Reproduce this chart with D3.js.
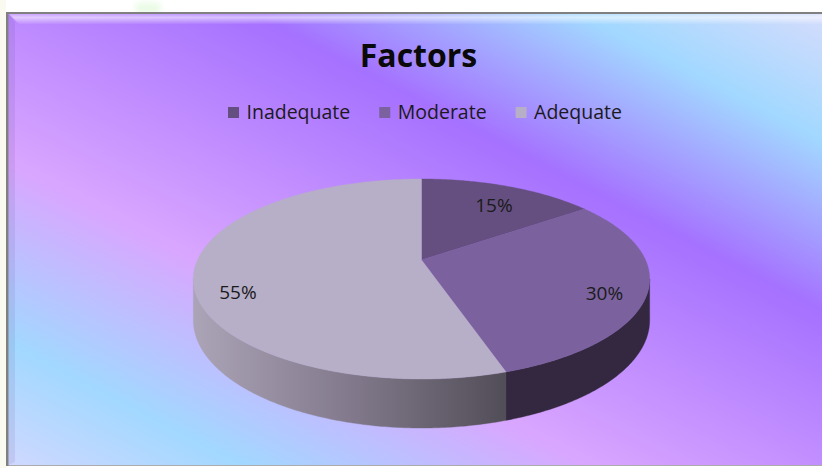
<!DOCTYPE html>
<html><head><meta charset="utf-8">
<script src="https://cdn.jsdelivr.net/npm/d3@7"></script>
<style>html,body{margin:0;padding:0;background:#fff;}svg{display:block;}</style>
</head><body>
<script>
// ---- data ----
const title = "Factors";
const categories = ["Inadequate", "Moderate", "Adequate"];
const values = [15, 30, 55];
const valueLabels = ["15%", "30%", "55%"];
const topColors = ["#654f80", "#7b629e", "#b7aec8"];
const sideColors = ["#2a2035", "#33283f", "url(#sideAdeq)"];

const W = 822, H = 468;
const svg = d3.select("body").append("svg").attr("width", W).attr("height", H);
const defs = svg.append("defs");

// background gradient (diagonal bands)
const bg = defs.append("linearGradient").attr("id", "bg")
  .attr("gradientUnits", "userSpaceOnUse");
const nx = -0.462, ny = 0.887, t0 = -380, t1 = 410;
bg.attr("x1", nx * t0).attr("y1", ny * t0).attr("x2", nx * t1).attr("y2", ny * t1);
[[-372, "#d6dcfc"], [-255, "#a2d8ff"], [-104, "#a571ff"], [140, "#d9a6ff"], [300, "#a2d8ff"], [410, "#d0d8ff"]]
  .forEach(([t, c]) => bg.append("stop").attr("offset", (t - t0) / (t1 - t0)).attr("stop-color", c));

const topBevel = defs.append("linearGradient").attr("id", "topBevel").attr("x1", 0).attr("y1", 0).attr("x2", 0).attr("y2", 1);
topBevel.append("stop").attr("offset", 0).attr("stop-color", "#ffffff").attr("stop-opacity", 0.25);
topBevel.append("stop").attr("offset", 0.35).attr("stop-color", "#ffffff").attr("stop-opacity", 0.55);
topBevel.append("stop").attr("offset", 1).attr("stop-color", "#ffffff").attr("stop-opacity", 0.05);

const sideG = defs.append("linearGradient").attr("id", "sideAdeq").attr("gradientUnits", "userSpaceOnUse")
  .attr("x1", 195).attr("y1", 0).attr("x2", 505).attr("y2", 0);
sideG.append("stop").attr("offset", 0).attr("stop-color", "#aba3b6");
sideG.append("stop").attr("offset", 0.5).attr("stop-color", "#827a8c");
sideG.append("stop").attr("offset", 1).attr("stop-color", "#524e58");

const blur = defs.append("filter").attr("id", "soft").attr("x", "-50%").attr("y", "-50%").attr("width", "200%").attr("height", "200%");
blur.append("feGaussianBlur").attr("stdDeviation", 3);

// page decoration
svg.append("rect").attr("x", 0).attr("y", 0).attr("width", 6).attr("height", H).attr("fill", "#fafaf0");
svg.append("rect").attr("x", 136).attr("y", 3).attr("width", 24).attr("height", 10).attr("fill", "#d8f8d0")
  .attr("opacity", 0.6).attr("filter", "url(#soft)");

// chart frame
svg.append("rect").attr("x", 6).attr("y", 12).attr("width", W - 6).attr("height", 454).attr("fill", "#808080");
svg.append("rect").attr("x", 8.5).attr("y", 14).attr("width", W - 8.5).attr("height", 451).attr("fill", "url(#bg)");
// bevels
svg.append("path").attr("d", `M9,14 L${W},14 L${W},24 L19,24 Z`).attr("fill", "url(#topBevel)");
svg.append("path").attr("d", `M8.5,14 L15,22 L15,${H - 6} L8.5,${H - 3} Z`).attr("fill", "#4a3a80").attr("opacity", 0.1);
svg.append("rect").attr("x", 8.5).attr("y", 465).attr("width", W).attr("height", 3).attr("fill", "#ffffff").attr("opacity", 0.35);

// title
svg.append("text").attr("x", 418.5).attr("y", 66.5).attr("text-anchor", "middle")
  .attr("font-family", "'Open Sans', sans-serif").attr("font-weight", 700).attr("font-size", 32)
  .attr("fill", "#0a0a0a").text(title);

// legend
const legend = svg.append("g").attr("font-family", "'Open Sans', sans-serif").attr("font-size", 19.5).attr("fill", "#1c1a20");
let lx = 228;
categories.forEach((c, i) => {
  legend.append("rect").attr("x", lx).attr("y", 107).attr("width", 11).attr("height", 11).attr("fill", topColors[i]);
  const tx = legend.append("text").attr("x", lx + 18.5).attr("y", 118.5).text(c);
  lx = lx + 18.5 + tx.node().getComputedTextLength() + 29;
});

// ---- 3D pie with perspective ----
const cx = 421.5, cy = 260, F = 224, S = 96.4, K = 0.19, DEPTH = 39.7;
function P(r, a) {
  const d = 1 + K * r * Math.cos(a);
  return [cx + F * r * Math.sin(a) / d, cy - S * r * Math.cos(a) / d];
}
function PB(a) {
  const p = P(1, a);
  return [p[0], p[1] + DEPTH / (1 + K * Math.cos(a))];
}
function samples(a0, a1) {
  const n = Math.max(2, Math.ceil(Math.abs(a1 - a0) / 0.01));
  return d3.range(n + 1).map(i => a0 + (a1 - a0) * i / n);
}
const pie = d3.pie().sort(null).value(d => d)(values);
const line = d3.line();
const aR = Math.acos(-K), aL = 2 * Math.PI - aR;

// walls
const walls = svg.append("g");
pie.forEach((s, i) => {
  const a0 = Math.max(s.startAngle, aR), a1 = Math.min(s.endAngle, aL);
  if (a1 <= a0) return;
  const topPts = samples(a0, a1).map(a => P(1, a));
  const botPts = samples(a0, a1).reverse().map(a => PB(a));
  walls.append("path").attr("d", line(topPts.concat(botPts)) + "Z")
    .attr("fill", sideColors[i]).attr("stroke", sideColors[i]).attr("stroke-width", 0.4);
});

// top faces
const tops = svg.append("g");
pie.forEach((s, i) => {
  const pts = [P(0, 0)].concat(samples(s.startAngle, s.endAngle).map(a => P(1, a)));
  tops.append("path").attr("d", line(pts) + "Z").attr("fill", topColors[i])
    .attr("stroke", topColors[i]).attr("stroke-width", 0.4);
});

// data labels, placed on the projected ellipse at mid of the projected boundary angles
const ecx = cx, ecy = 279, erx = 228, ery = 100;
function psi(a) {
  const p = P(1, a);
  let v = Math.atan2((p[0] - ecx) / erx, -(p[1] - ecy) / ery);
  if (v < 0) v += 2 * Math.PI;
  return v;
}
const lab = svg.append("g").attr("font-family", "'Open Sans', sans-serif").attr("font-size", 19)
  .attr("fill", "#1a1a1a").attr("text-anchor", "middle");
pie.forEach((s, i) => {
  let p0 = psi(s.startAngle), p1 = psi(s.endAngle);
  if (p1 <= p0) p1 += 2 * Math.PI;
  const m = (p0 + p1) / 2, r = 0.82;
  const x = ecx + r * erx * Math.sin(m), y = ecy - 0.78 * ery * Math.cos(m) - 2;
  lab.append("text").attr("x", x).attr("y", y).attr("dy", "0.36em").text(valueLabels[i]);
});
</script>
</body></html>
